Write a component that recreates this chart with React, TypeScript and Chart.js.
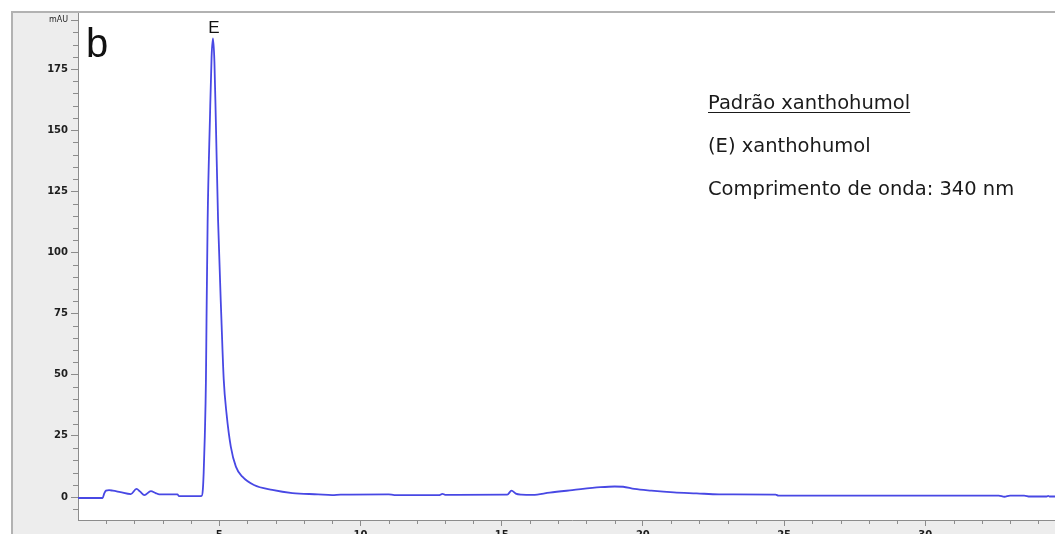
import React, { useEffect, useRef } from "react";
import { Chart, registerables } from "chart.js";

Chart.register(...registerables);

// Retention time (min) and detector response (mAU) of the chromatogram trace
const retentionTime: number[] = [
  0.0, 0.5, 0.87, 0.93, 0.99, 1.1, 1.23, 1.5, 1.87, 2.07, 2.2, 2.35, 2.58, 2.75, 2.88,
  3.52, 3.57, 4.28, 4.38, 4.42, 4.45, 4.49, 4.53, 4.55, 4.59, 4.67, 4.73, 4.78, 4.83,
  4.88, 4.96, 5.08, 5.16, 5.26, 5.41, 5.59, 5.82, 6.23, 6.88, 7.59, 8.5, 9.0, 9.3,
  11.0, 11.2, 12.8, 12.9, 13.0, 15.2, 15.35, 15.5, 15.7, 16.1, 16.7, 17.5, 18.5, 19.0,
  19.3, 19.7, 20.3, 21.1, 21.9, 22.7, 24.7, 24.8, 32.6, 32.8, 33.0, 33.5, 33.7, 34.3,
  34.35, 34.4, 35.0,
];
const absorbance: number[] = [
  -0.4, -0.4, -0.4, 1.5, 2.6, 2.8, 2.6, 2.0, 1.2, 3.3, 2.2, 0.8, 2.4, 1.6, 1.1,
  1.1, 0.4, 0.4, 0.5, 3, 10, 25, 48, 72, 113, 154, 180, 187.5, 178,
  154, 113, 72, 48, 34, 20.6, 12.4, 8.3, 4.9, 2.9, 1.6, 1.1, 0.8, 1.0,
  1.1, 0.8, 0.8, 1.3, 0.9, 1.0, 2.6, 1.4, 1.0, 0.9, 1.8, 2.8, 4.0, 4.3,
  4.2, 3.3, 2.6, 1.9, 1.5, 1.1, 1.0, 0.55, 0.55, 0.1, 0.6, 0.6, 0.2, 0.2,
  0.5, 0.2, 0.2,
];

// Axis ticks
const yMajorTicks: number[] = [0, 25, 50, 75, 100, 125, 150, 175];
const yUnitTick = 195;
const yUnitLabel = "mAU";
const yMinorTicks: number[] = [-5, 5, 10, 15, 20, 30, 35, 40, 45, 55, 60, 65, 70, 80, 85, 90, 95, 105, 110, 115, 120, 130, 135, 140, 145, 155, 160, 165, 170, 180, 185, 190];
const xMajorTicks: number[] = [5, 10, 15, 20, 25, 30];
const xUnitTick = 35;
const xUnitLabel = "min";
const xMinorTicks: number[] = [1, 2, 3, 4, 6, 7, 8, 9, 11, 12, 13, 14, 16, 17, 18, 19, 21, 22, 23, 24, 26, 27, 28, 29, 31, 32, 33, 34];

// Annotation texts
const panelLetter = "b";
const peakLabel = "E";
const infoTitle = "Padrão xanthohumol";
const infoLines: string[] = ["(E) xanthohumol", "Comprimento de onda: 340 nm"];

const TRACE_COLOR = "#4848e4";
const PANEL_GRAY = "#ededed";
const FRAME_GRAY = "#b2b2b2";
const AXIS_GRAY = "#8c8c8c";
const LABEL_COLOR = "#1e1e1e";

const framePlugin = {
  id: "frame",
  beforeDraw(chart: any) {
    const { ctx, width, height, chartArea } = chart;
    ctx.save();
    ctx.fillStyle = "#ffffff";
    ctx.fillRect(0, 0, width, height);
    ctx.fillStyle = PANEL_GRAY;
    ctx.fillRect(12, 12, width - 12, height - 12);
    ctx.fillStyle = "#ffffff";
    ctx.fillRect(chartArea.left, chartArea.top, chartArea.right - chartArea.left, chartArea.bottom - chartArea.top);
    ctx.strokeStyle = FRAME_GRAY;
    ctx.lineWidth = 2;
    ctx.beginPath();
    ctx.moveTo(12, height);
    ctx.lineTo(12, 12);
    ctx.lineTo(width, 12);
    ctx.stroke();
    ctx.restore();
  },
  afterDraw(chart: any) {
    const { ctx, chartArea, scales } = chart;
    const xs = scales.x;
    const ys = scales.y;
    ctx.save();
    // minor ticks
    ctx.strokeStyle = AXIS_GRAY;
    ctx.lineWidth = 1;
    ctx.beginPath();
    yMinorTicks.forEach((v) => {
      const py = Math.round(ys.getPixelForValue(v)) + 0.5;
      ctx.moveTo(chartArea.left - 5, py);
      ctx.lineTo(chartArea.left, py);
    });
    xMinorTicks.forEach((v) => {
      const px = Math.round(xs.getPixelForValue(v)) + 0.5;
      ctx.moveTo(px, chartArea.bottom);
      ctx.lineTo(px, chartArea.bottom + 4);
    });
    ctx.stroke();

    // panel letter
    ctx.fillStyle = "#111111";
    ctx.font = '40px "Liberation Sans", Arial, sans-serif';
    ctx.textAlign = "left";
    ctx.textBaseline = "alphabetic";
    ctx.fillText(panelLetter, 86, 57);

    // peak label above the apex
    let iMax = 0;
    absorbance.forEach((v, i) => {
      if (v > absorbance[iMax]) iMax = i;
    });
    const apexX = xs.getPixelForValue(retentionTime[iMax]);
    const apexY = ys.getPixelForValue(absorbance[iMax]);
    ctx.font = '17px "Liberation Sans", Arial, sans-serif';
    ctx.textAlign = "center";
    ctx.fillText(peakLabel, apexX + 1, apexY - 5);

    // info block
    ctx.fillStyle = "#1a1a1a";
    ctx.font = '19.5px "DejaVu Sans", Verdana, sans-serif';
    ctx.textAlign = "left";
    const tx = 708;
    ctx.fillText(infoTitle, tx, 109);
    const w = ctx.measureText(infoTitle).width;
    ctx.strokeStyle = "#1a1a1a";
    ctx.beginPath();
    ctx.moveTo(tx, 112.5);
    ctx.lineTo(tx + w, 112.5);
    ctx.stroke();
    infoLines.forEach((line, i) => {
      ctx.fillText(line, tx, 152 + i * 43);
    });
    ctx.restore();
  },
};

export default function App() {
  const canvasRef = useRef<HTMLCanvasElement | null>(null);

  useEffect(() => {
    if (!canvasRef.current) return;
    const chart = new Chart(canvasRef.current, {
      type: "line",
      data: {
        datasets: [
          {
            data: retentionTime.map((t, i) => ({ x: t, y: absorbance[i] })),
            borderColor: TRACE_COLOR,
            borderWidth: 1.8,
            pointRadius: 0,
            fill: false,
            cubicInterpolationMode: "monotone",
          },
        ],
      },
      options: {
        responsive: false,
        animation: false,
        devicePixelRatio: 1,
        layout: { padding: { left: 12, top: 13, right: 12, bottom: 0 } },
        plugins: {
          legend: { display: false },
          tooltip: { enabled: false },
          title: { display: false },
        },
        scales: {
          x: {
            type: "linear",
            min: 0,
            max: 35,
            afterFit: (scale: any) => {
              scale.height = 30;
            },
            afterBuildTicks: (scale: any) => {
              scale.ticks = [...xMajorTicks, xUnitTick].map((v) => ({ value: v }));
            },
            border: { display: true, color: AXIS_GRAY, width: 1 },
            grid: { drawOnChartArea: false, drawTicks: true, tickLength: 6, color: AXIS_GRAY },
            ticks: {
              padding: 3,
              maxRotation: 0,
              autoSkip: false,
              color: LABEL_COLOR,
              font: { family: '"DejaVu Sans", Verdana, sans-serif', size: 10, weight: "bold" },
              callback: (v: any) => (v === xUnitTick ? xUnitLabel : String(v)),
            },
          },
          y: {
            type: "linear",
            min: -9.4,
            max: 197.9,
            afterFit: (scale: any) => {
              scale.width = 66;
            },
            afterBuildTicks: (scale: any) => {
              scale.ticks = [...yMajorTicks, yUnitTick].map((v) => ({ value: v }));
            },
            border: { display: true, color: AXIS_GRAY, width: 1 },
            grid: { drawOnChartArea: false, drawTicks: true, tickLength: 7, color: AXIS_GRAY },
            ticks: {
              padding: 3,
              autoSkip: false,
              color: LABEL_COLOR,
              font: (c: any) =>
                c.tick && c.tick.value === yUnitTick
                  ? { family: '"DejaVu Sans", Verdana, sans-serif', size: 8, weight: "normal" }
                  : { family: '"DejaVu Sans", Verdana, sans-serif', size: 10, weight: "bold" },
              callback: (v: any) => (v === yUnitTick ? yUnitLabel : String(v)),
            },
          },
        },
      },
      plugins: [framePlugin],
    } as any);
    return () => chart.destroy();
  }, []);

  return (
    <div
      style={{
        position: "fixed",
        left: 0,
        top: 0,
        width: 1055,
        height: 534,
        overflow: "hidden",
        background: "#ffffff",
      }}
    >
      <canvas ref={canvasRef} width={1080} height={550} style={{ display: "block" }} />
    </div>
  );
}
